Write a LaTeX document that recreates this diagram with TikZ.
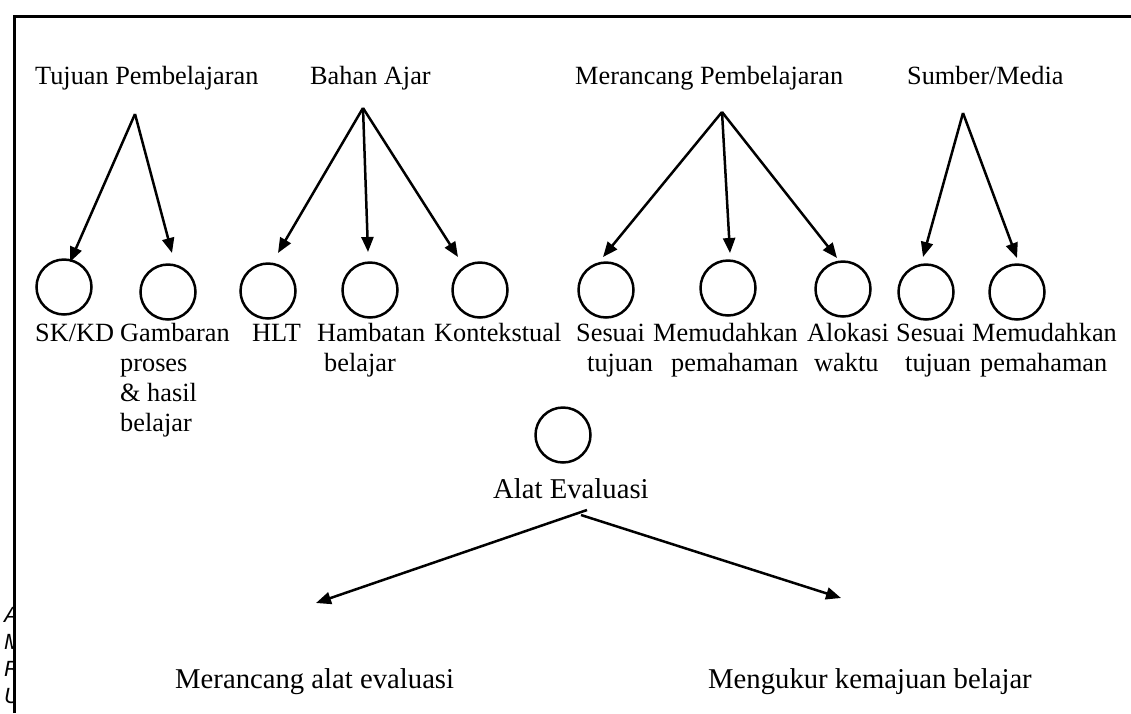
\documentclass[tikz,border=0pt]{standalone}
\usepackage{fontspec}
\setmainfont{Liberation Serif}
\newfontfamily\edgefont{Liberation Sans}
\usetikzlibrary{arrows.meta}
\begin{document}
\begin{tikzpicture}[x=1pt,y=-1pt,
  lbl/.style={inner sep=0pt, font=\fontsize{26.3}{30}\selectfont, align=left, anchor=base west},
  biglbl/.style={lbl, font=\fontsize{28.7}{32}\selectfont},
  edge letter/.style={inner sep=0pt, font=\edgefont\itshape\fontsize{22}{27}\selectfont, anchor=base west},
  dot/.style={circle, draw, line width=2.5pt, minimum size=55pt, inner sep=0pt},
  arr/.style={line width=2.5pt, -{Triangle[length=15pt,width=12pt]}},
  frameline/.style={line width=3pt}]
\useasboundingbox (0,0) rectangle (1131,713);

% open frame: top and left edges only
\draw[frameline] (14,713) -- (14,16) -- (1131,16);

% letters running off the left edge
\begin{scope}
  \clip (0,590) rectangle (14,713);
  \node[edge letter] (ea) at (4,622) {A};
  \node[edge letter] (em) at (4,649) {M};
  \node[edge letter] (er) at (4,676) {R};
  \node[edge letter] (eu) at (4,703) {U};
\end{scope}

% group headings
\node[lbl] (tujuan)  at (35,84)  {Tujuan Pembelajaran};
\node[lbl] (bahan)   at (310,84) {Bahan Ajar};
\node[lbl] (rancang) at (575,84) {Merancang Pembelajaran};
\node[lbl] (sumber)  at (907,84) {Sumber/Media};

% circles
\node[dot] (c1)  at (64,287)  {};
\node[dot] (c2)  at (168,292) {};
\node[dot] (c3)  at (268,291) {};
\node[dot] (c4)  at (370,290) {};
\node[dot] (c5)  at (480,290) {};
\node[dot] (c6)  at (606,290) {};
\node[dot] (c7)  at (728,288) {};
\node[dot] (c8)  at (843,289) {};
\node[dot] (c9)  at (926,292) {};
\node[dot] (c10) at (1017,292) {};
\node[dot] (ce)  at (563,435) {};

% circle captions (a multi-line node sits on the baseline of its last line)
\node[lbl] (l1)  at (35,341)  {SK/KD};
\node[lbl] (l2)  at (120,431) {Gambaran\\proses\\\& hasil\\belajar};
\node[lbl] (l3)  at (252,341) {HLT};
\node[lbl] (l4)  at (317,371) {Hambatan\\\hspace*{7pt}belajar};
\node[lbl] (l5)  at (434,341) {Kontekstual};
\node[lbl] (l6)  at (576,371) {Sesuai\\\hspace*{11pt}tujuan};
\node[lbl] (l7)  at (653,371) {Memudahkan\\\hspace*{18pt}pemahaman};
\node[lbl] (l8)  at (807,371) {Alokasi\\\hspace*{7pt}waktu};
\node[lbl] (l9)  at (896,371) {Sesuai\\\hspace*{9pt}tujuan};
\node[lbl] (l10) at (972,371) {Memudahkan\\\hspace*{8pt}pemahaman};
\node[biglbl] (le) at (493,498) {Alat Evaluasi};

% outcomes of the evaluation tool
\node[biglbl] (o1) at (175,688) {Merancang alat evaluasi};
\node[biglbl] (o2) at (708,688) {Mengukur kemajuan belajar};

% arrow origins under the headings
\coordinate (aT) at (135,114);
\coordinate (aB) at (363,108);
\coordinate (aM) at (722,112);
\coordinate (aS) at (963,113);
\coordinate (aE1) at (587,510);
\coordinate (aE2) at (581,515);

% arrow ends above the circles
\coordinate (t1)  at (70,262);
\coordinate (t2)  at (172,253);
\coordinate (t3)  at (278,253);
\coordinate (t4)  at (368,252);
\coordinate (t5)  at (458,257);
\coordinate (t6)  at (603,257);
\coordinate (t7)  at (730,253);
\coordinate (t8)  at (837,258);
\coordinate (t9)  at (923,257);
\coordinate (t10) at (1017,258);
\coordinate (tL)  at (316,603);
\coordinate (tR)  at (841,598);

\draw[arr] (aT) -- (t1);
\draw[arr] (aT) -- (t2);
\draw[arr] (aB) -- (t3);
\draw[arr] (aB) -- (t4);
\draw[arr] (aB) -- (t5);
\draw[arr] (aM) -- (t6);
\draw[arr] (aM) -- (t7);
\draw[arr] (aM) -- (t8);
\draw[arr] (aS) -- (t9);
\draw[arr] (aS) -- (t10);
\draw[arr] (aE1) -- (tL);
\draw[arr] (aE2) -- (tR);
\end{tikzpicture}
\end{document}
